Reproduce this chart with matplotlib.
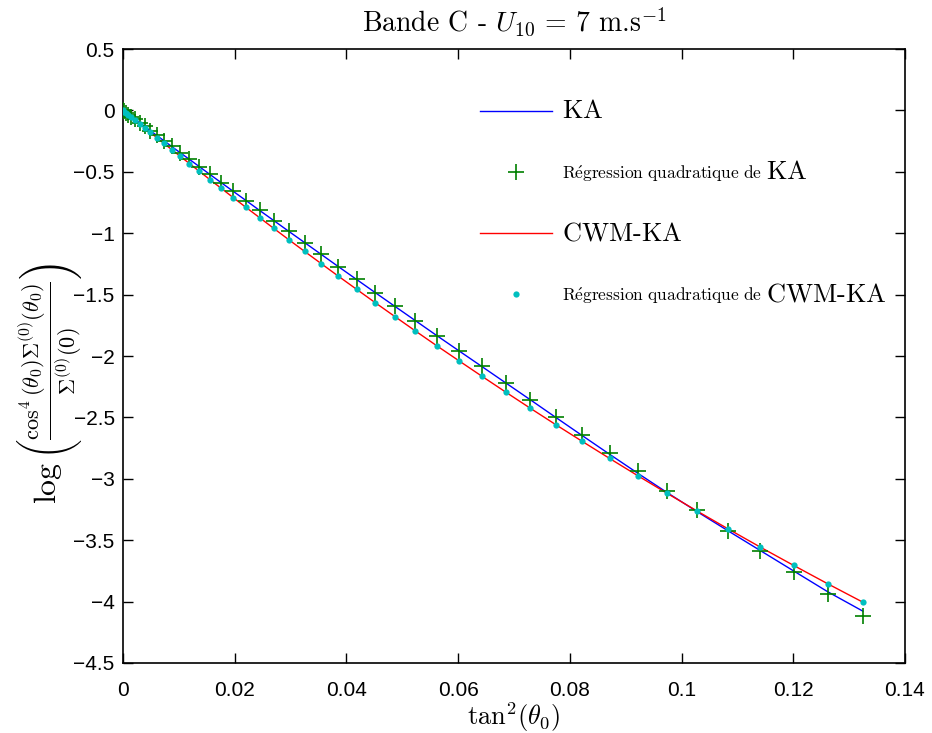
import matplotlib
matplotlib.use('Agg')
import matplotlib.pyplot as plt
from matplotlib.offsetbox import AnchoredOffsetbox, DrawingArea, TextArea, HPacker
from matplotlib.lines import Line2D

plt.rcParams['mathtext.fontset'] = 'cm'
plt.rcParams['font.family'] = ['Liberation Sans', 'DejaVu Sans']
plt.rcParams['axes.unicode_minus'] = True

# tan^2(theta_0)
x = [0.0, 0.00006, 0.00024, 0.00054, 0.00096, 0.00151, 0.00217, 0.00295, 0.00386,
     0.00489, 0.00604, 0.00732, 0.00871, 0.01024, 0.01189, 0.01366, 0.01556, 0.01759,
     0.01975, 0.02204, 0.02446, 0.02701, 0.02970, 0.03252, 0.03548, 0.03857, 0.04181,
     0.04518, 0.04870, 0.05236, 0.05617, 0.06013, 0.06424, 0.06850, 0.07292, 0.07749,
     0.08222, 0.08712, 0.09218, 0.09741, 0.10281, 0.10838, 0.11413, 0.12006, 0.12618,
     0.13247]

# KA regression (markers +)
ka_fit = [0.0, -0.002, -0.008, -0.018, -0.033, -0.051, -0.073, -0.100, -0.130, -0.165,
          -0.203, -0.246, -0.293, -0.344, -0.398, -0.457, -0.521, -0.588, -0.659, -0.734,
          -0.814, -0.897, -0.985, -1.076, -1.172, -1.272, -1.376, -1.484, -1.596, -1.712,
          -1.833, -1.957, -2.085, -2.218, -2.354, -2.495, -2.639, -2.788, -2.940, -3.097,
          -3.257, -3.422, -3.590, -3.762, -3.938, -4.118]

# KA (blue line)
ka_line = [0.0, -0.002, -0.008, -0.018, -0.033, -0.051, -0.073, -0.100, -0.130, -0.165,
           -0.203, -0.246, -0.293, -0.344, -0.398, -0.457, -0.521, -0.588, -0.659, -0.734,
           -0.814, -0.897, -0.985, -1.076, -1.172, -1.272, -1.376, -1.484, -1.596, -1.712,
           -1.833, -1.957, -2.085, -2.218, -2.356, -2.500, -2.648, -2.800, -2.955, -3.112,
           -3.268, -3.425, -3.585, -3.750, -3.920, -4.078]

# CWM-KA (red line)
cwm_line = [0.0, -0.002, -0.009, -0.020, -0.036, -0.056, -0.080, -0.109, -0.142, -0.179,
            -0.221, -0.268, -0.318, -0.373, -0.432, -0.495, -0.563, -0.634, -0.710, -0.790,
            -0.873, -0.961, -1.053, -1.148, -1.247, -1.350, -1.456, -1.566, -1.679, -1.796,
            -1.916, -2.038, -2.164, -2.293, -2.425, -2.559, -2.695, -2.834, -2.975, -3.118,
            -3.263, -3.409, -3.557, -3.705, -3.855, -4.005]

# CWM-KA regression (dots)
cwm_fit = [0.0, -0.002, -0.009, -0.020, -0.036, -0.056, -0.080, -0.109, -0.142, -0.179,
           -0.221, -0.268, -0.318, -0.373, -0.432, -0.495, -0.563, -0.634, -0.710, -0.790,
           -0.873, -0.961, -1.053, -1.148, -1.247, -1.350, -1.456, -1.566, -1.679, -1.796,
           -1.916, -2.038, -2.164, -2.293, -2.425, -2.559, -2.695, -2.834, -2.975, -3.118,
           -3.263, -3.409, -3.557, -3.705, -3.855, -4.005]

xticks = [0, 0.02, 0.04, 0.06, 0.08, 0.1, 0.12, 0.14]
xticklabels = ['0', '0.02', '0.04', '0.06', '0.08', '0.1', '0.12', '0.14']
yticks = [0.5, 0, -0.5, -1, -1.5, -2, -2.5, -3, -3.5, -4, -4.5]
yticklabels = ['0.5', '0', '\u22120.5', '\u22121', '\u22121.5', '\u22122', '\u22122.5',
               '\u22123', '\u22123.5', '\u22124', '\u22124.5']

GREEN = (0, 0.5, 0)
CYAN = (0, 0.75, 0.75)

fig = plt.figure(figsize=(9.32, 7.33), dpi=100)
ax = fig.add_axes([0.132, 0.0955, 0.839, 0.8375])

ax.plot(x, ka_line, color='blue', lw=1.0, zorder=2)
ax.plot(x, ka_fit, linestyle='none', marker='+', color=GREEN, ms=11, mew=1.2, zorder=3)
ax.plot(x, cwm_line, color='red', lw=1.0, zorder=2.5)
ax.plot(x, cwm_fit, linestyle='none', marker='o', color=CYAN, mec='none', ms=4.5, zorder=4)

ax.set_xlim(0, 0.14)
ax.set_ylim(-4.5, 0.5)
ax.set_xticks(xticks)
ax.set_xticklabels(xticklabels)
ax.set_yticks(yticks)
ax.set_yticklabels(yticklabels)
ax.tick_params(direction='in', top=True, right=True, length=7, width=1.0,
               labelsize=15)
ax.tick_params(axis='x', pad=13)
ax.tick_params(axis='y', pad=6)
for s in ax.spines.values():
    s.set_linewidth(1.2)

ax.set_title(r'Bande C - $U_{10}\,=\,7$ m.s$^{-1}$', fontsize=20, pad=13,
             fontfamily='cmr10')
ax.set_xlabel(r'$\mathrm{tan}^2(\theta_0)$', fontsize=19, labelpad=0)
ax.set_ylabel(r'$\log\left(\frac{\cos^4(\theta_0)\Sigma^{(0)}(\theta_0)}{\Sigma^{(0)}(0)}\right)$',
              fontsize=23)
ax.yaxis.set_label_coords(-0.05, 0.456)

# legend built from offset boxes (no frame)
big = dict(size=19)
small = dict(size=12.5)
rows = [
    ('line', 'blue', None, r'$\mathrm{KA}$'),
    ('plus', GREEN, r'$\mathrm{R\acute{e}gression\ quadratique\ de}$', r'$\mathrm{KA}$'),
    ('line', 'red', None, r'$\mathrm{CWM\text{-}KA}$'),
    ('dot', CYAN, r'$\mathrm{R\acute{e}gression\ quadratique\ de}$', r'$\mathrm{CWM\text{-}KA}$'),
]
ycent = [0.899, 0.800, 0.700, 0.601]
for (kind, col, stxt, btxt), yc in zip(rows, ycent):
    da = DrawingArea(52, 14, 0, 0)
    if kind == 'line':
        da.add_artist(Line2D([0, 52], [7, 7], color=col, lw=1.0))
    elif kind == 'plus':
        da.add_artist(Line2D([26], [7], marker='+', color=col, ms=11, mew=1.2))
    else:
        da.add_artist(Line2D([26], [7], marker='o', color=col, mec='none', ms=4.5))
    if stxt is None:
        txt = TextArea(btxt, textprops=big)
    else:
        txt = HPacker(children=[TextArea(stxt, textprops=small), TextArea(btxt, textprops=big)],
                      align='baseline', pad=0, sep=3)
    row = HPacker(children=[da, txt], align='center', pad=0, sep=7)
    box = AnchoredOffsetbox(loc='center left', child=row, frameon=False, pad=0, borderpad=0,
                            bbox_to_anchor=(0.4565, yc), bbox_transform=ax.transAxes)
    ax.add_artist(box)

fig.savefig('out.png', dpi=100)
